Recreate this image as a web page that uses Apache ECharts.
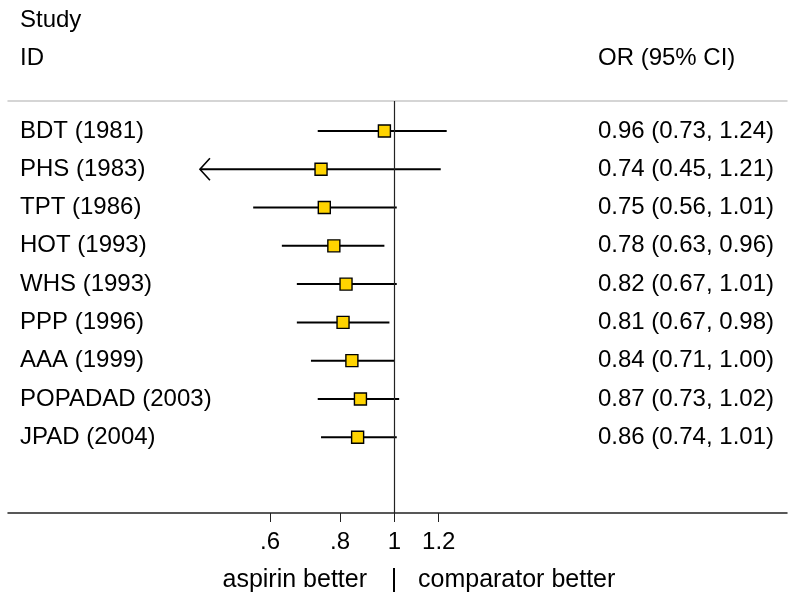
<!DOCTYPE html>
<html>
<head>
<meta charset="utf-8">
<script src="https://cdn.jsdelivr.net/npm/echarts@6/dist/echarts.min.js"></script>
<style>html,body{margin:0;padding:0;background:#fff}#c{width:795px;height:601px}</style>
</head>
<body>
<div id="c"></div>
<script>
// ---- data ----
var studies = ['BDT (1981)', 'PHS (1983)', 'TPT (1986)', 'HOT (1993)', 'WHS (1993)', 'PPP (1996)', 'AAA (1999)', 'POPADAD (2003)', 'JPAD (2004)'];
var orValues = [0.96, 0.74, 0.75, 0.78, 0.82, 0.81, 0.84, 0.87, 0.86];
var ciLow = [0.73, 0.45, 0.56, 0.63, 0.67, 0.67, 0.71, 0.73, 0.74];
var ciHigh = [1.24, 1.21, 1.01, 0.96, 1.01, 0.98, 1.00, 1.02, 1.01];
var lowTruncated = [false, true, false, false, false, false, false, false, false];
var tickValues = [0.6, 0.8, 1, 1.2];
var tickLabels = ['.6', '.8', '1', '1.2'];

var FONT = "'Liberation Sans', Arial, Helvetica, sans-serif";
var FS = 24;
var FS_B = 25;
var rows = studies.map(function (s, i) { return i; });
var ciText = orValues.map(function (v, i) {
  return v.toFixed(2) + ' (' + ciLow[i].toFixed(2) + ', ' + ciHigh[i].toFixed(2) + ')';
});
var lnTicks = tickValues.map(function (v) { return Math.log(v); });
function tickLabel(val) {
  var best = 0, d = Infinity;
  for (var i = 0; i < lnTicks.length; i++) {
    var dd = Math.abs(lnTicks[i] - val);
    if (dd < d) { d = dd; best = i; }
  }
  return tickLabels[best];
}
function rowLabel(arr) {
  return function (val) { var i = Math.round(val); return arr[i] !== undefined ? arr[i] : ''; };
}

var XMIN = -1.587, XMAX = 1.613;
var YMIN = -0.784, YMAX = 9.98;

var chart = echarts.init(document.getElementById('c'), null, { renderer: 'canvas' });
chart.setOption({
  animation: false,
  backgroundColor: '#ffffff',
  textStyle: { fontFamily: FONT },
  grid: { left: 8, right: 8, top: 101, bottom: 88, containLabel: false },
  xAxis: [{
    type: 'value', min: XMIN, max: XMAX, position: 'bottom',
    axisLine: { show: true, onZero: false, lineStyle: { color: '#222', width: 1.5 } },
    axisTick: { show: true, length: 9, customValues: lnTicks, lineStyle: { color: '#222', width: 1 } },
    axisLabel: { show: true, customValues: lnTicks, formatter: tickLabel, margin: 17,
      color: '#000', fontSize: FS, fontFamily: FONT },
    splitLine: { show: false }
  }, {
    type: 'value', min: XMIN, max: XMAX, position: 'top',
    axisLine: { show: true, onZero: false, lineStyle: { color: '#c8c8c8', width: 1.5 } },
    axisTick: { show: false }, axisLabel: { show: false }, splitLine: { show: false }
  }],
  yAxis: [{
    type: 'value', min: YMIN, max: YMAX, inverse: true, position: 'left',
    axisLine: { show: false, onZero: false }, axisTick: { show: false }, splitLine: { show: false },
    axisLabel: { show: true, inside: true, margin: 12, customValues: rows, formatter: rowLabel(studies),
      padding: [4, 0, 0, 0], color: '#000', fontSize: FS, fontFamily: FONT }
  }, {
    type: 'value', min: YMIN, max: YMAX, inverse: true, position: 'right',
    axisLine: { show: false, onZero: false }, axisTick: { show: false }, splitLine: { show: false },
    axisLabel: { show: true, inside: true, margin: 13, customValues: rows, formatter: rowLabel(ciText),
      padding: [4, 0, 0, 0], color: '#000', fontSize: FS, fontFamily: FONT }
  }],
  series: [{
    type: 'custom',
    xAxisIndex: 0, yAxisIndex: 0,
    silent: true,
    data: rows.map(function (i) { return [Math.log(ciLow[i]), Math.log(ciHigh[i]), i, lowTruncated[i] ? 1 : 0]; }),
    renderItem: function (params, api) {
      var a = api.coord([api.value(0), api.value(2)]);
      var b = api.coord([api.value(1), api.value(2)]);
      var children = [{
        type: 'line',
        shape: { x1: a[0], y1: a[1], x2: b[0], y2: b[1] },
        style: { stroke: '#000', lineWidth: 2 }
      }];
      if (api.value(3)) {
        children.push({
          type: 'polyline',
          shape: { points: [[a[0] + 10, a[1] - 11], [a[0], a[1]], [a[0] + 10, a[1] + 11]] },
          style: { stroke: '#000', lineWidth: 1.6, fill: 'none' }
        });
      }
      return { type: 'group', children: children };
    },
    z: 2
  }, {
    type: 'scatter',
    xAxisIndex: 0, yAxisIndex: 0,
    silent: true,
    symbol: 'rect',
    symbolSize: 12,
    itemStyle: { color: '#FFD400', borderColor: '#000', borderWidth: 1.4, opacity: 1 },
    data: rows.map(function (i) { return [Math.log(orValues[i]), i]; }),
    markLine: {
      silent: true, symbol: 'none', label: { show: false },
      lineStyle: { color: '#222', width: 1.2, type: 'solid' },
      data: [{ xAxis: 0 }]
    },
    z: 3
  }],
  graphic: [
    { type: 'text', x: 20, y: 20, style: { text: 'Study', font: FS + 'px ' + FONT, fill: '#000', textAlign: 'left', textVerticalAlign: 'middle' } },
    { type: 'text', x: 20, y: 58, style: { text: 'ID', font: FS + 'px ' + FONT, fill: '#000', textAlign: 'left', textVerticalAlign: 'middle' } },
    { type: 'text', x: 598, y: 58, style: { text: 'OR (95% CI)', font: FS + 'px ' + FONT, fill: '#000', textAlign: 'left', textVerticalAlign: 'middle' } },
    { type: 'text', x: 367, y: 580, style: { text: 'aspirin better', font: FS_B + 'px ' + FONT, fill: '#000', textAlign: 'right', textVerticalAlign: 'middle' } },
    { type: 'text', x: 394, y: 580, style: { text: '|', font: FS_B + 'px ' + FONT, fill: '#000', textAlign: 'center', textVerticalAlign: 'middle' } },
    { type: 'text', x: 418, y: 580, style: { text: 'comparator better', font: FS_B + 'px ' + FONT, fill: '#000', textAlign: 'left', textVerticalAlign: 'middle' } }
  ]
});
</script>
</body>
</html>
